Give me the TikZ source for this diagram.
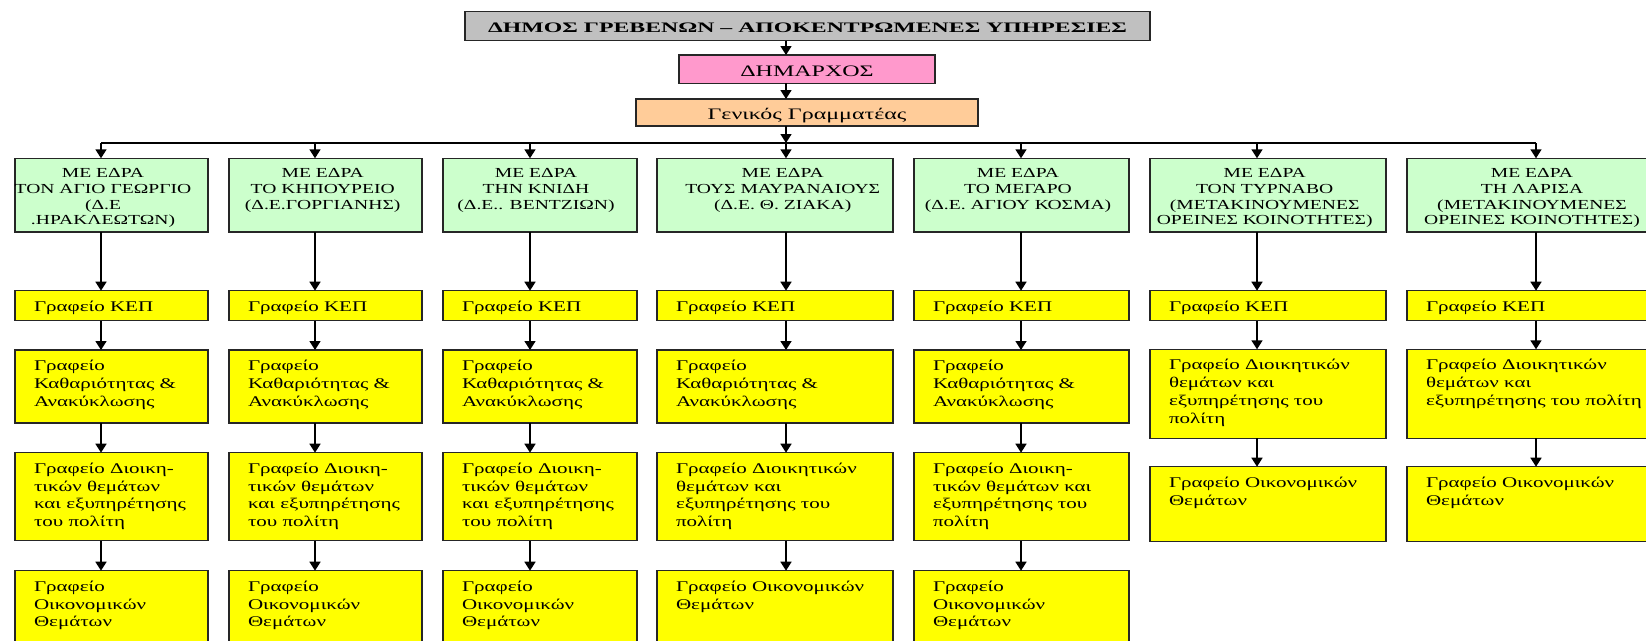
\documentclass[tikz,border=0pt]{standalone}
\usepackage{fontspec}
\setmainfont{Liberation Serif}[FakeStretch=1.42]
\newfontfamily\titlefont{Liberation Serif}[FakeStretch=1.64]
\newfontfamily\widefont{Liberation Serif}[FakeStretch=1.5]
\usetikzlibrary{arrows.meta}
\definecolor{cgray}{HTML}{C0C0C0}
\definecolor{cpink}{HTML}{FF99CC}
\definecolor{cpeach}{HTML}{FFCC99}
\definecolor{cgreen}{HTML}{CCFFCC}
\definecolor{cyellow}{HTML}{FFFF00}
\tikzset{
  boxline/.style={draw=black!85, line width=1.4pt},
  graybox/.style={boxline, fill=cgray},
  pinkbox/.style={boxline, fill=cpink},
  peachbox/.style={boxline, fill=cpeach},
  greenbox/.style={boxline, fill=cgreen, font=\fontsize{13.8pt}{15.6pt}\selectfont},
  yelbox/.style={boxline, fill=cyellow, font=\fontsize{14.8pt}{17.8pt}\selectfont},
  arr/.style={line width=1.6pt, -{Triangle[width=11pt,length=9pt]}},
  busline/.style={line width=1.4pt}
}
% name, left, top, right, bottom, style, content
\newcommand{\placebox}[7]{%
  \node[#6, anchor=north west, inner sep=0pt, outer sep=0pt] (#1) at (#2,#3)
  {\parbox[t][\dimexpr #5pt-#3pt\relax][t]{\dimexpr #4pt-#2pt\relax}{#7}};}
% yellow text: left indent 19, first baseline about 20
\newcommand{\ytx}[1]{\hspace*{19pt}\parbox[t]{260pt}{\raggedright\rule{0pt}{20.5pt}#1}}
% green text: centred on a given offset (width = twice the offset)
\newcommand{\gtx}[2]{\makebox[#1pt][c]{\begin{tabular}[t]{@{}c@{}}\rule{0pt}{19.5pt}#2\end{tabular}}}
\begin{document}
\begin{tikzpicture}[x=1pt, y=-1pt]
\useasboundingbox (0,0) rectangle (1646,640);

% top chain
\placebox{title}{465}{11.5}{1150}{40.7}{graybox}{\makebox[685pt][c]{\rule{0pt}{20.5pt}\fontsize{14.5pt}{16pt}\titlefont\bfseries ΔΗΜΟΣ ΓΡΕΒΕΝΩΝ – ΑΠΟΚΕΝΤΡΩΜΕΝΕΣ ΥΠΗΡΕΣΙΕΣ}}
\placebox{dim}{679}{55}{935}{83.3}{pinkbox}{\makebox[256pt][c]{\rule{0pt}{21pt}\fontsize{16pt}{18pt}\widefont ΔΗΜΑΡΧΟΣ}}
\placebox{gen}{636}{99}{978}{126}{peachbox}{\makebox[342pt][c]{\rule{0pt}{20pt}\fontsize{16pt}{18pt}\widefont Γενικός Γραμματέας}}

% arrow columns
\coordinate (ax1) at (101,0);
\coordinate (ax2) at (315,0);
\coordinate (ax3) at (530,0);
\coordinate (ax4) at (786,0);
\coordinate (ax5) at (1021,0);
\coordinate (ax6) at (1257,0);
\coordinate (ax7) at (1536,0);
\coordinate (bus) at (0,143);

% green boxes
\placebox{g1}{15}{158.3}{208}{232}{greenbox}{\gtx{176}{ΜΕ ΕΔΡΑ\\ΤΟΝ ΑΓΙΟ ΓΕΩΡΓΙΟ\\(Δ.Ε\\.ΗΡΑΚΛΕΩΤΩΝ)}}
\placebox{g2}{229}{158.3}{422}{232}{greenbox}{\gtx{187.4}{ΜΕ ΕΔΡΑ\\ΤΟ ΚΗΠΟΥΡΕΙΟ\\(Δ.Ε.ΓΟΡΓΙΑΝΗΣ)}}
\placebox{g3}{443}{158.3}{637}{232}{greenbox}{\gtx{186}{ΜΕ ΕΔΡΑ\\ΤΗΝ ΚΝΙΔΗ\\(Δ.Ε.. ΒΕΝΤΖΙΩΝ)}}
\placebox{g4}{657}{158.3}{893}{232}{greenbox}{\gtx{251.4}{ΜΕ ΕΔΡΑ\\ΤΟΥΣ ΜΑΥΡΑΝΑΙΟΥΣ\\(Δ.Ε. Θ. ΖΙΑΚΑ)}}
\placebox{g5}{914}{158.3}{1129}{232}{greenbox}{\gtx{208}{ΜΕ ΕΔΡΑ\\ΤΟ ΜΕΓΑΡΟ\\(Δ.Ε. ΑΓΙΟΥ ΚΟΣΜΑ)}}
\placebox{g6}{1150}{158.3}{1386}{232}{greenbox}{\gtx{229.4}{ΜΕ ΕΔΡΑ\\ΤΟΝ ΤΥΡΝΑΒΟ\\(ΜΕΤΑΚΙΝΟΥΜΕΝΕΣ\\ΟΡΕΙΝΕΣ ΚΟΙΝΟΤΗΤΕΣ)}}
\placebox{g7}{1407}{158.3}{1650}{232}{greenbox}{\gtx{250}{ΜΕ ΕΔΡΑ\\ΤΗ ΛΑΡΙΣΑ\\(ΜΕΤΑΚΙΝΟΥΜΕΝΕΣ\\ΟΡΕΙΝΕΣ ΚΟΙΝΟΤΗΤΕΣ)}}

% KEP row
\placebox{k1}{15}{290.7}{208}{320.7}{yelbox}{\ytx{Γραφείο ΚΕΠ}}
\placebox{k2}{229}{290.7}{422}{320.7}{yelbox}{\ytx{Γραφείο ΚΕΠ}}
\placebox{k3}{443}{290.7}{637}{320.7}{yelbox}{\ytx{Γραφείο ΚΕΠ}}
\placebox{k4}{657}{290.7}{893}{320.7}{yelbox}{\ytx{Γραφείο ΚΕΠ}}
\placebox{k5}{914}{290.7}{1129}{320.7}{yelbox}{\ytx{Γραφείο ΚΕΠ}}
\placebox{k6}{1150}{290.7}{1386}{320.7}{yelbox}{\ytx{Γραφείο ΚΕΠ}}
\placebox{k7}{1407}{290.7}{1650}{320.7}{yelbox}{\ytx{Γραφείο ΚΕΠ}}

% cleaning row (cols 1-5)
\placebox{c1}{15}{350}{208}{423}{yelbox}{\ytx{Γραφείο\\Καθαριότητας \&\\Ανακύκλωσης}}
\placebox{c2}{229}{350}{422}{423}{yelbox}{\ytx{Γραφείο\\Καθαριότητας \&\\Ανακύκλωσης}}
\placebox{c3}{443}{350}{637}{423}{yelbox}{\ytx{Γραφείο\\Καθαριότητας \&\\Ανακύκλωσης}}
\placebox{c4}{657}{350}{893}{423}{yelbox}{\ytx{Γραφείο\\Καθαριότητας \&\\Ανακύκλωσης}}
\placebox{c5}{914}{350}{1129}{423}{yelbox}{\ytx{Γραφείο\\Καθαριότητας \&\\Ανακύκλωσης}}

% administration row
\placebox{d1}{15}{452.7}{208}{540.7}{yelbox}{\ytx{Γραφείο Διοικη-\\τικών θεμάτων\\και εξυπηρέτησης\\του πολίτη}}
\placebox{d2}{229}{452.7}{422}{540.7}{yelbox}{\ytx{Γραφείο Διοικη-\\τικών θεμάτων\\και εξυπηρέτησης\\του πολίτη}}
\placebox{d3}{443}{452.7}{637}{540.7}{yelbox}{\ytx{Γραφείο Διοικη-\\τικών θεμάτων\\και εξυπηρέτησης\\του πολίτη}}
\placebox{d4}{657}{452.7}{893}{540.7}{yelbox}{\ytx{Γραφείο Διοικητικών\\θεμάτων και\\εξυπηρέτησης του\\πολίτη}}
\placebox{d5}{914}{452.7}{1129}{540.7}{yelbox}{\ytx{Γραφείο Διοικη-\\τικών θεμάτων και\\εξυπηρέτησης του\\πολίτη}}
\placebox{d6}{1150}{349.3}{1386}{438.3}{yelbox}{\ytx{Γραφείο Διοικητικών\\θεμάτων και\\εξυπηρέτησης του\\πολίτη}}
\placebox{d7}{1407}{349.3}{1650}{438.3}{yelbox}{\ytx{Γραφείο Διοικητικών\\θεμάτων και\\εξυπηρέτησης του πολίτη}}

% finance row
\placebox{f1}{15}{570.7}{208}{660}{yelbox}{\ytx{Γραφείο\\Οικονομικών\\Θεμάτων}}
\placebox{f2}{229}{570.7}{422}{660}{yelbox}{\ytx{Γραφείο\\Οικονομικών\\Θεμάτων}}
\placebox{f3}{443}{570.7}{637}{660}{yelbox}{\ytx{Γραφείο\\Οικονομικών\\Θεμάτων}}
\placebox{f4}{657}{570.7}{893}{660}{yelbox}{\ytx{Γραφείο Οικονομικών\\Θεμάτων}}
\placebox{f5}{914}{570.7}{1129}{660}{yelbox}{\ytx{Γραφείο\\Οικονομικών\\Θεμάτων}}
\placebox{f6}{1150}{466.7}{1386}{541.7}{yelbox}{\ytx{Γραφείο Οικονομικών\\Θεμάτων}}
\placebox{f7}{1407}{466.7}{1650}{541.7}{yelbox}{\ytx{Γραφείο Οικονομικών\\Θεμάτων}}

% connectors: top chain
\draw[arr] (ax4 |- title.south) -- (ax4 |- dim.north);
\draw[arr] (ax4 |- dim.south) -- (ax4 |- gen.north);
\draw[arr] (ax4 |- gen.south) -- (ax4 |- bus);
\draw[busline] (ax1 |- bus) -- (ax7 |- bus);
\foreach \i in {1,...,7} {
  \draw[arr] (ax\i |- bus) -- (ax\i |- g\i.north);
  \draw[arr] (ax\i |- g\i.south) -- (ax\i |- k\i.north);
}
\foreach \i in {1,...,5} {
  \draw[arr] (ax\i |- k\i.south) -- (ax\i |- c\i.north);
  \draw[arr] (ax\i |- c\i.south) -- (ax\i |- d\i.north);
  \draw[arr] (ax\i |- d\i.south) -- (ax\i |- f\i.north);
}
\foreach \i in {6,7} {
  \draw[arr] (ax\i |- k\i.south) -- (ax\i |- d\i.north);
  \draw[arr] (ax\i |- d\i.south) -- (ax\i |- f\i.north);
}
\end{tikzpicture}
\end{document}
